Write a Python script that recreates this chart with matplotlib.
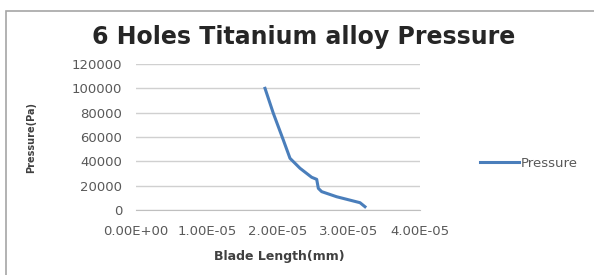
import matplotlib
matplotlib.use("Agg")
import matplotlib.pyplot as plt
from matplotlib.patches import Rectangle

# Data
blade_length = [1.817e-5, 1.934e-5, 2.075e-5, 2.169e-5, 2.31e-5, 2.474e-5,
                2.545e-5, 2.568e-5, 2.615e-5, 2.826e-5, 3.155e-5, 3.225e-5]
pressure = [100000, 79500, 57500, 42500, 34300, 26900,
            25200, 17800, 15100, 10900, 6000, 2700]
x_ticks = [0, 1e-5, 2e-5, 3e-5, 4e-5]
x_tick_labels = ["0.00E+00", "1.00E-05", "2.00E-05", "3.00E-05", "4.00E-05"]
y_ticks = [0, 20000, 40000, 60000, 80000, 100000, 120000]
y_tick_labels = ["0", "20000", "40000", "60000", "80000", "100000", "120000"]

plt.rcParams['font.family'] = ['DejaVu Sans']

fig = plt.figure(figsize=(5.94, 2.75), dpi=100)
fig.patch.set_facecolor('white')
# outer chart border
fig.add_artist(Rectangle((6/594, -0.1), 1.2, (275-11)/275 + 0.1, transform=fig.transFigure,
                         fill=False, edgecolor='#a6a6a6', linewidth=1.2))

ax = fig.add_axes([136/594, 1-210/275, (420-136)/594, (210-64)/275])
ax.plot(blade_length, pressure, color='#4a7ebb', linewidth=2.2, label='Pressure')
ax.set_xlim(0, 4e-5)
ax.set_ylim(0, 120000)
ax.set_xticks(x_ticks)
ax.set_xticklabels(x_tick_labels)
ax.set_yticks(y_ticks)
ax.set_yticklabels(y_tick_labels)
ax.grid(axis='y', color='#d0d0d0', linewidth=1.0)
ax.set_axisbelow(True)
for s in ['top', 'right', 'left']:
    ax.spines[s].set_visible(False)
ax.spines['bottom'].set_color('#bfbfbf')
ax.tick_params(length=0, labelcolor='#595959')
ax.tick_params(axis='x', labelsize=9.5, pad=11)
ax.tick_params(axis='y', labelsize=9.5, pad=10)

ax.set_xlabel('Blade Length(mm)', fontsize=9, fontweight='bold', color='#404040')
ax.xaxis.set_label_coords((279.5-136)/284, (210-250)/146)
ax.set_ylabel('Pressure(Pa)', fontsize=7, fontweight='bold', color='#404040')
ax.yaxis.set_label_coords((36-136)/284, 0.497)

fig.text(303.5/594, 1-44/275, '6 Holes Titanium alloy Pressure', fontsize=17, fontweight='bold',
         color='#262626', ha='center', va='baseline')

leg = fig.legend(loc='center left', bbox_to_anchor=(468/594, 1-163/275), frameon=False,
                 fontsize=9.5, handlelength=3.0, handletextpad=0.1)
for t in leg.get_texts():
    t.set_color('#595959')

fig.savefig('out.png', dpi=100, facecolor='white')
